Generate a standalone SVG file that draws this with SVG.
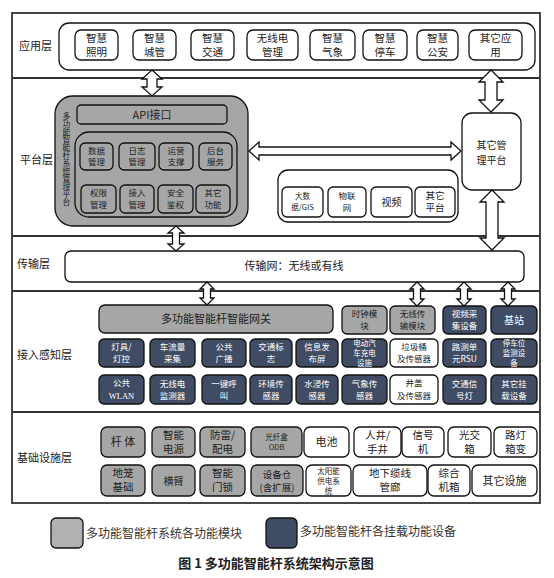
<svg xmlns="http://www.w3.org/2000/svg" width="554" height="578" viewBox="0 0 554 578">
<style>
text{font-family:"Noto Sans CJK SC","Noto Sans",sans-serif;fill:#222;text-anchor:middle}
.frame{fill:none;stroke:#333;stroke-width:1.8}
.sep{stroke:#333;stroke-width:1.8}
.cont{fill:#fff;stroke:#111;stroke-width:1.3}
.b{fill:#fff;stroke:#111;stroke-width:1.3}
.g{fill:#a6a6a6;stroke:#111;stroke-width:1.3}
.d{fill:#3f4c63;stroke:#111;stroke-width:1.3}
.arr{fill:#fff;stroke:#111;stroke-width:1.3;stroke-linejoin:miter}
.lay{font-size:11px;text-anchor:start}
.t11{font-size:11px}
.ta{font-size:10.5px}
.t10{font-size:10px}
.t95{font-size:9.5px}
.t9{font-size:8.5px}
.t8{font-size:7.5px}
.w{fill:#fff}
.vt{font-size:7.8px;writing-mode:vertical-rl}
.leg{font-size:12px;text-anchor:start;fill:#333}
.cap{font-size:13px;font-weight:bold;fill:#222}
</style>

<!-- layer frame -->
<g id="layers">
<rect class="frame" x="12" y="13" width="528" height="490"/>
<line class="sep" x1="12" y1="78" x2="540" y2="78"/>
<line class="sep" x1="12" y1="236" x2="540" y2="236"/>
<line class="sep" x1="12" y1="291" x2="540" y2="291"/>
<line class="sep" x1="12" y1="412" x2="540" y2="412"/>
<text class="lay" x="19" y="50">应用层</text>
<text class="lay" x="20" y="164">平台层</text>
<text class="lay" x="17" y="268">传输层</text>
<text class="lay" x="17" y="359">接入感知层</text>
<text class="lay" x="17" y="462">基础设施层</text>
</g>

<!-- application layer -->
<g id="app-container"><rect class="cont" x="59" y="23" width="476" height="47" rx="10"/></g>
<g id="app-lighting"><rect class="b" x="75" y="30" width="43" height="30" rx="6"/><text class="ta" x="96.5" y="41.7">智慧</text><text class="ta" x="96.5" y="55.7">照明</text></g>
<g id="app-city"><rect class="b" x="133" y="30" width="43" height="30" rx="6"/><text class="ta" x="154.5" y="41.7">智慧</text><text class="ta" x="154.5" y="55.7">城管</text></g>
<g id="app-traffic"><rect class="b" x="191" y="30" width="43" height="30" rx="6"/><text class="ta" x="212.5" y="41.7">智慧</text><text class="ta" x="212.5" y="55.7">交通</text></g>
<g id="app-radio"><rect class="b" x="247" y="30" width="51" height="30" rx="6"/><text class="ta" x="272.5" y="41.7">无线电</text><text class="ta" x="272.5" y="55.7">管理</text></g>
<g id="app-weather"><rect class="b" x="310" y="30" width="45" height="30" rx="6"/><text class="ta" x="332.5" y="41.7">智慧</text><text class="ta" x="332.5" y="55.7">气象</text></g>
<g id="app-parking"><rect class="b" x="363" y="30" width="44" height="30" rx="6"/><text class="ta" x="385" y="41.7">智慧</text><text class="ta" x="385" y="55.7">停车</text></g>
<g id="app-police"><rect class="b" x="417" y="30" width="41" height="30" rx="6"/><text class="ta" x="437.5" y="41.7">智慧</text><text class="ta" x="437.5" y="55.7">公安</text></g>
<g id="app-other"><rect class="b" x="469" y="30" width="53" height="30" rx="6"/><text class="ta" x="495.5" y="41.7">其它应</text><text class="ta" x="495.5" y="55.7">用</text></g>

<!-- platform layer -->
<g id="platform-main">
<rect class="g" x="55" y="96" width="193" height="130" rx="18"/>
<text class="vt" x="66.5" y="159">多功能智能杆系统管理平台</text>
</g>
<g id="api"><rect class="g" x="77" y="105" width="150" height="19" rx="4"/><text class="t11" x="152" y="118.5">API接口</text></g>
<g id="platform-inner"><rect class="g" x="75" y="132" width="162" height="85" rx="14"/></g>
<g id="p-data"><rect class="g" x="80" y="143" width="33" height="27" rx="5"/><text class="t9" x="96.5" y="153.8">数据</text><text class="t9" x="96.5" y="165.3">管理</text></g>
<g id="p-log"><rect class="g" x="119" y="143" width="36" height="27" rx="5"/><text class="t9" x="137" y="153.8">日志</text><text class="t9" x="137" y="165.3">管理</text></g>
<g id="p-ops"><rect class="g" x="159" y="143" width="34" height="27" rx="5"/><text class="t9" x="176" y="153.8">运营</text><text class="t9" x="176" y="165.3">支撑</text></g>
<g id="p-backend"><rect class="g" x="199" y="143" width="33" height="27" rx="5"/><text class="t9" x="215.5" y="153.8">后台</text><text class="t9" x="215.5" y="165.3">服务</text></g>
<g id="p-auth"><rect class="g" x="81" y="185" width="35" height="28" rx="5"/><text class="t9" x="98.5" y="196.2">权限</text><text class="t9" x="98.5" y="207.7">管理</text></g>
<g id="p-access"><rect class="g" x="120" y="185" width="34" height="28" rx="5"/><text class="t9" x="137" y="196.2">接入</text><text class="t9" x="137" y="207.7">管理</text></g>
<g id="p-security"><rect class="g" x="158" y="185" width="35" height="28" rx="5"/><text class="t9" x="175.5" y="196.2">安全</text><text class="t9" x="175.5" y="207.7">鉴权</text></g>
<g id="p-otherfn"><rect class="g" x="196" y="185" width="34" height="28" rx="5"/><text class="t9" x="213" y="196.2">其它</text><text class="t9" x="213" y="207.7">功能</text></g>

<g id="other-platform"><rect class="b" x="462" y="113" width="59" height="77" rx="10"/><text class="t10" x="491.5" y="149">其它管</text><text class="t10" x="491.5" y="164">理平台</text></g>
<g id="ext-container"><rect class="cont" x="278" y="170" width="180" height="52" rx="10"/></g>
<g id="ext-bigdata"><rect class="b" x="282" y="187" width="41" height="30" rx="5"/><text class="t8" x="302.5" y="199">大数</text><text class="t8" x="302.5" y="210">据/GIS</text></g>
<g id="ext-iot"><rect class="b" x="328" y="187" width="38" height="30" rx="5"/><text class="t9" x="347" y="199.2">物联</text><text class="t9" x="347" y="210.7">网</text></g>
<g id="ext-video"><rect class="b" x="371" y="187" width="41" height="30" rx="5"/><text class="t10" x="391.5" y="205.5">视频</text></g>
<g id="ext-other"><rect class="b" x="415" y="187" width="40" height="30" rx="5"/><text class="t95" x="435" y="198.9">其它</text><text class="t95" x="435" y="211.4">平台</text></g>

<!-- transmission layer -->
<g id="transport"><rect class="b" x="65" y="251" width="459" height="31" rx="6"/><text class="t11" x="294" y="270">传输网：无线或有线</text></g>

<!-- access layer -->
<g id="gateway"><rect class="g" x="99" y="305" width="234" height="28" rx="6"/><text class="t11" x="216" y="323">多功能智能杆智能网关</text></g>
<g id="clock"><rect class="g" x="342" y="306" width="45" height="28" rx="5"/><text class="t9" x="364.5" y="317">时钟模</text><text class="t9" x="364.5" y="329">块</text></g>
<g id="wireless"><rect class="g" x="390" y="306" width="45" height="28" rx="5"/><text class="t9" x="412.5" y="317">无线传</text><text class="t9" x="412.5" y="329">输模块</text></g>
<g id="video-cap"><rect class="d" x="443" y="306" width="43" height="28" rx="5"/><text class="t9 w" x="464.5" y="317">视频采</text><text class="t9 w" x="464.5" y="329">集设备</text></g>
<g id="base-station"><rect class="d" x="491" y="306" width="46" height="28" rx="5"/><text class="t10 w" x="514" y="323.5">基站</text></g>

<g id="lamp"><rect class="d" x="99" y="339" width="45" height="28" rx="5"/><text class="t9 w" x="121.5" y="350">灯具/</text><text class="t9 w" x="121.5" y="362">灯控</text></g>
<g id="traffic-flow"><rect class="d" x="150" y="339" width="45" height="28" rx="5"/><text class="t9 w" x="172.5" y="350">车流量</text><text class="t9 w" x="172.5" y="362">采集</text></g>
<g id="broadcast"><rect class="d" x="202" y="339" width="44" height="28" rx="5"/><text class="t9 w" x="224" y="350">公共</text><text class="t9 w" x="224" y="362">广播</text></g>
<g id="traffic-sign"><rect class="d" x="250" y="339" width="42" height="28" rx="5"/><text class="t9 w" x="271" y="350">交通标</text><text class="t9 w" x="271" y="362">志</text></g>
<g id="info-screen"><rect class="d" x="296" y="339" width="42" height="28" rx="5"/><text class="t9 w" x="317" y="350">信息发</text><text class="t9 w" x="317" y="362">布屏</text></g>
<g id="ev-charge"><rect class="d" x="342" y="339" width="45" height="28" rx="5"/><text class="t8 w" x="364.5" y="345.6">电动汽</text><text class="t8 w" x="364.5" y="355.6">车充电</text><text class="t8 w" x="364.5" y="365.6">设施</text></g>
<g id="trash"><rect class="b" x="390" y="339" width="48" height="28" rx="5"/><text class="t9" x="414" y="350">垃圾桶</text><text class="t9" x="414" y="362">及传感器</text></g>
<g id="rsu"><rect class="d" x="443" y="339" width="43" height="28" rx="5"/><text class="t9 w" x="464.5" y="350">路测单</text><text class="t9 w" x="464.5" y="362">元RSU</text></g>
<g id="parking-mon"><rect class="d" x="491" y="339" width="46" height="28" rx="5"/><text class="t8 w" x="514" y="345.6">停车位</text><text class="t8 w" x="514" y="355.6">监测设</text><text class="t8 w" x="514" y="365.6">备</text></g>

<g id="wlan"><rect class="d" x="99" y="375" width="45" height="29" rx="5"/><text class="t9 w" x="121.5" y="386">公共</text><text class="t9 w" x="121.5" y="399" style="font-family:'Liberation Serif',serif">WLAN</text></g>
<g id="radio-mon"><rect class="d" x="150" y="375" width="45" height="29" rx="5"/><text class="t9 w" x="172.5" y="386.5">无线电</text><text class="t9 w" x="172.5" y="398.5">监测器</text></g>
<g id="sos"><rect class="d" x="202" y="375" width="44" height="29" rx="5"/><text class="t9 w" x="224" y="386.5">一键呼</text><text class="t9 w" x="224" y="398.5">叫</text></g>
<g id="env-sensor"><rect class="d" x="250" y="375" width="42" height="29" rx="5"/><text class="t9 w" x="271" y="386.5">环境传</text><text class="t9 w" x="271" y="398.5">感器</text></g>
<g id="water-sensor"><rect class="d" x="296" y="375" width="42" height="29" rx="5"/><text class="t9 w" x="317" y="386.5">水浸传</text><text class="t9 w" x="317" y="398.5">感器</text></g>
<g id="weather-sensor"><rect class="d" x="342" y="375" width="45" height="29" rx="5"/><text class="t9 w" x="364.5" y="386.5">气象传</text><text class="t9 w" x="364.5" y="398.5">感器</text></g>
<g id="manhole"><rect class="b" x="390" y="375" width="48" height="29" rx="5"/><text class="t9" x="414" y="386">井盖</text><text class="t9" x="414" y="399">及传感器</text></g>
<g id="signal-light"><rect class="d" x="443" y="375" width="43" height="29" rx="5"/><text class="t9 w" x="464.5" y="386.5">交通信</text><text class="t9 w" x="464.5" y="398.5">号灯</text></g>
<g id="other-mount"><rect class="d" x="491" y="375" width="46" height="29" rx="5"/><text class="t9 w" x="514" y="386.5">其它挂</text><text class="t9 w" x="514" y="398.5">载设备</text></g>

<!-- infrastructure layer -->
<g id="pole"><rect class="g" x="101" y="427" width="44" height="30" rx="6"/><text class="t11" x="123" y="446">杆 体</text></g>
<g id="power"><rect class="g" x="152" y="427" width="43" height="30" rx="6"/><text class="ta" x="173.5" y="438.7">智能</text><text class="ta" x="173.5" y="452.7">电源</text></g>
<g id="lightning"><rect class="g" x="200" y="427" width="45" height="30" rx="6"/><text class="ta" x="222.5" y="438.7">防雷/</text><text class="ta" x="222.5" y="452.7">配电</text></g>
<g id="odb"><rect class="g" x="251" y="427" width="51" height="30" rx="6"/><text class="t8" x="276.5" y="440">光纤盒</text><text class="t8" x="276.5" y="450">ODB</text></g>
<g id="battery"><rect class="b" x="304" y="427" width="45" height="30" rx="6"/><text class="t11" x="326.5" y="446">电池</text></g>
<g id="well"><rect class="b" x="354" y="427" width="47" height="30" rx="6"/><text class="ta" x="377.5" y="438.7">人井/</text><text class="ta" x="377.5" y="452.7">手井</text></g>
<g id="signal-machine"><rect class="b" x="402" y="427" width="42" height="30" rx="6"/><text class="ta" x="423" y="438.7">信号</text><text class="ta" x="423" y="452.7">机</text></g>
<g id="fiber-box"><rect class="b" x="448" y="427" width="43" height="30" rx="6"/><text class="ta" x="469.5" y="438.7">光交</text><text class="ta" x="469.5" y="452.7">箱</text></g>
<g id="transformer"><rect class="b" x="494" y="427" width="43" height="30" rx="6"/><text class="ta" x="515.5" y="438.7">路灯</text><text class="ta" x="515.5" y="452.7">箱变</text></g>

<g id="foundation"><rect class="g" x="101" y="465" width="44" height="31" rx="6"/><text class="ta" x="123" y="477.2">地笼</text><text class="ta" x="123" y="491.2">基础</text></g>
<g id="arm"><rect class="g" x="152" y="465" width="43" height="31" rx="6"/><text class="t10" x="173.5" y="484.5">横臂</text></g>
<g id="lock"><rect class="g" x="200" y="465" width="45" height="31" rx="6"/><text class="ta" x="222.5" y="477.2">智能</text><text class="ta" x="222.5" y="491.2">门锁</text></g>
<g id="cabinet"><rect class="g" x="251" y="465" width="52" height="31" rx="6"/><text class="t95" x="277" y="477.5">设备仓</text><text class="t95" x="277" y="490.5">(含扩展)</text></g>
<g id="solar"><rect class="b" x="306" y="465" width="45" height="31" rx="6"/><text class="t8" x="328.5" y="473.5">太阳能</text><text class="t8" x="328.5" y="483.5">供电系</text><text class="t8" x="328.5" y="493.5">统</text></g>
<g id="utility-tunnel"><rect class="b" x="353" y="465" width="74" height="31" rx="6"/><text class="ta" x="390" y="477.2">地下缆线</text><text class="ta" x="390" y="491.2">管廊</text></g>
<g id="cabinet2"><rect class="b" x="428" y="465" width="42" height="31" rx="6"/><text class="ta" x="449" y="477.2">综合</text><text class="ta" x="449" y="491.2">机箱</text></g>
<g id="other-fac"><rect class="b" x="472" y="465" width="65" height="31" rx="6"/><text class="t11" x="504.5" y="485">其它设施</text></g>

<!-- connectors -->
<g id="connectors">
<polygon class="arr" points="152,70 162,79 157,79 157,87 162,87 152,96 142,87 147,87 147,79 142,79"/>
<polygon class="arr" points="491,70 503,82 497,82 497,100 503,100 491,112 479,100 485,100 485,82 479,82"/>
<polygon class="arr" points="249,151 259,142 259,147 451,147 451,142 461,151 451,160 451,155 259,155 259,160"/>
<polygon class="arr" points="492,190 504,202 498,202 498,238 504,238 492,250 480,238 486,238 486,202 480,202"/>
<polygon class="arr" points="176,226 184,233 179.5,233 179.5,244 184,244 176,251 168,244 172.5,244 172.5,233 168,233"/>
<polygon class="arr" points="207,282 214,289 210.5,289 210.5,298 214,298 207,305 200,298 203.5,298 203.5,289 200,289"/>
<polygon class="arr" points="417,282 424,289 420.5,289 420.5,299 424,299 417,306 410,299 413.5,299 413.5,289 410,289"/>
<polygon class="arr" points="464,282 471,289 467.5,289 467.5,299 471,299 464,306 457,299 460.5,299 460.5,289 457,289"/>
<polygon class="arr" points="508,282 515,289 511.5,289 511.5,299 515,299 508,306 501,299 504.5,299 504.5,289 501,289"/>
</g>

<!-- legend -->
<g id="legend-gray"><rect x="51" y="518" width="32" height="30" rx="5" fill="#b3b0b0" stroke="#111" stroke-width="1.3"/><text class="leg" x="86" y="538">多功能智能杆系统各功能模块</text></g>
<g id="legend-dark"><rect x="266" y="518" width="31" height="30" rx="5" fill="#3f4c63" stroke="#111" stroke-width="1.3"/><text class="leg" x="300" y="536">多功能智能杆各挂载功能设备</text></g>
<g id="caption"><text class="cap" x="276" y="568">图 1 多功能智能杆系统架构示意图</text></g>
</svg>
